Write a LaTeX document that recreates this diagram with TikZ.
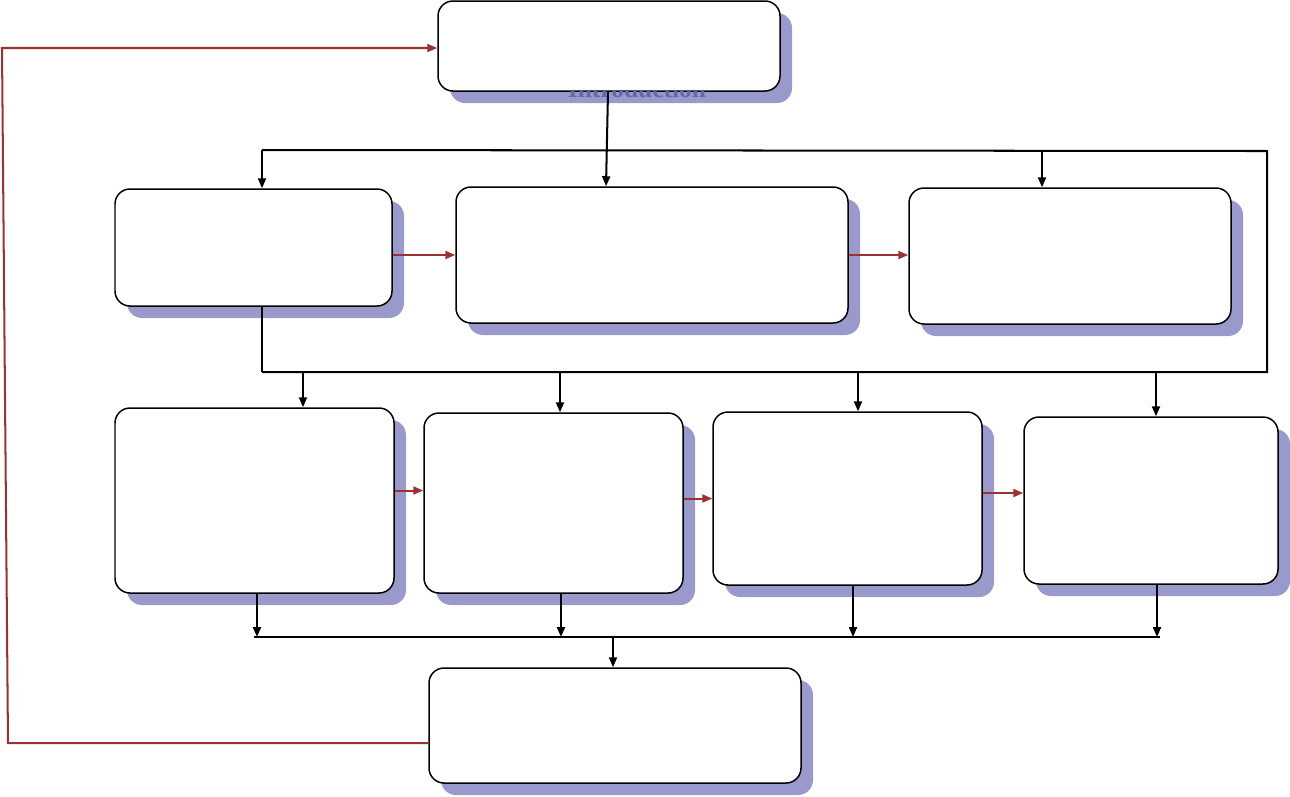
\documentclass[tikz,border=0pt]{standalone}
\usepackage{fontspec}
\usepackage{tikz}
\usetikzlibrary{shadows}
\usetikzlibrary{fit}
\usetikzlibrary{calc}
\usetikzlibrary{positioning}
\usetikzlibrary{arrows.meta}
\newfontfamily\titlefont{Liberation Serif}
\definecolor{ShadowBlue}{RGB}{153,153,204}
\definecolor{TitleBlue}{RGB}{102,102,172}
\definecolor{FlowRed}{RGB}{153,51,51}
\tikzset{
  % rounded boxes with a flat lavender shadow
  block/.style={
    draw=black,line width=.85pt,fill=white,rounded corners=.3cm,
    inner sep=0pt,
    drop shadow={opacity=1,fill=ShadowBlue,shadow xshift=.24cm,shadow yshift=-.24cm},
  },
  % black connectors and buses
  link/.style={-{Triangle[length=.2cm,width=.16cm]},line width=1.15pt},
  bus/.style={line width=1.15pt},
  % red flow between boxes
  flow/.style={-{Triangle[length=.2cm,width=.16cm]},FlowRed,line width=1.15pt},
  feedback/.style={FlowRed,line width=1.15pt},
}
\begin{document}
\begin{tikzpicture}[x=0.02cm,y=-0.02cm]
  \useasboundingbox (0,0) rectangle (1290,796);
  % boxes
  \node[block,fit={(438,1) (780,91)}] (intro) {};
  \node[block,fit={(115,189) (392,306)}] (A) {};
  \node[block,fit={(456,187) (848,323)}] (B) {};
  \node[block,fit={(909,188) (1231,324)}] (C) {};
  \node[block,fit={(115,408) (394,593)}] (D) {};
  \node[block,fit={(424,413) (683,593)}] (E) {};
  \node[block,fit={(713,412) (982,585)}] (F) {};
  \node[block,fit={(1024,417) (1278,584)}] (G) {};
  \node[block,fit={(429,668) (801,783)}] (H) {};
  % title peeking out under the top box
  \begin{scope}
    \clip (intro.south west) rectangle ([xshift=.3cm,yshift=-.3cm]intro.south east);
    \node[TitleBlue,font=\titlefont\bfseries\fontsize{14.5}{16}\selectfont,anchor=base]
      (title) at (637,97) {Introduction};
  \end{scope}
  % first bus
  \coordinate (bus1w) at (262,150);
  \coordinate (bus1e) at (1267,151);
  \coordinate (bus2w) at (262,372);
  \coordinate (bus2e) at (1267,372);
  \draw[link] (intro.south -| 608,0) -- (606,0 |- B.north);
  \draw[bus] (bus1w) -- (bus1e) -- (bus2e) -- (bus2w);
  \draw[link] (bus1w) -- (262,0 |- A.north);
  \draw[link] (1042,150) -- (1042,0 |- C.north);
  \draw[bus] (262,0 |- A.south) -- (bus2w);
  \foreach \x/\n in {303/D,560/E,858/F,1156/G}
    \draw[link] (\x,372) -- (\x,0 |- \n.north);
  % flow along the rows
  \draw[flow] (A.east |- B.west) -- (B.west);
  \draw[flow] (B.east) -- (C.west |- B.east);
  \draw[flow] ([yshift=.2cm]D.east) -- ([yshift=.2cm]D.east -| E.west);
  \draw[flow] (E.east |- F.west) -- (F.west);
  \draw[flow] ([yshift=.11cm]F.east) -- ([yshift=.11cm]F.east -| G.west);
  % second bus
  \coordinate (bus3w) at (254,637);
  \coordinate (bus3e) at (1160,637);
  \draw[bus] (bus3w) -- (bus3e);
  \foreach \x/\n in {257/D,561/E,853/F,1157/G}
    \draw[link] (\x,0 |- \n.south) -- (\x,637);
  \draw[link] (613,637) -- (613,0 |- H.north);
  % back to the start
  \draw[feedback,-{Triangle[length=.2cm,width=.16cm]}]
    ([yshift=-.35cm]H.west) -- (8,743) -- (2,48) -- (intro.west |- 0,48);
\end{tikzpicture}
\end{document}
